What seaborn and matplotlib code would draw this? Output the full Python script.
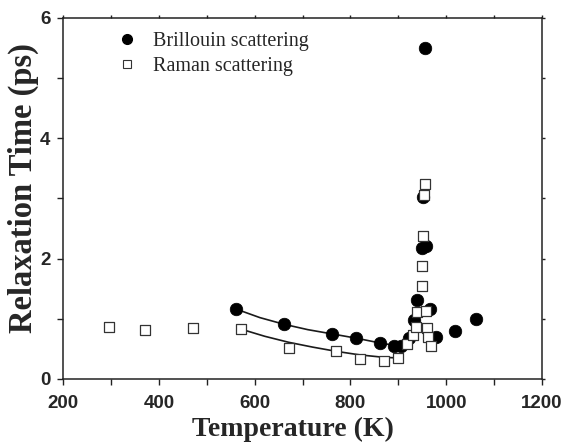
import numpy as np
import pandas as pd
import matplotlib
matplotlib.use("Agg")
import matplotlib.pyplot as plt
from matplotlib.ticker import MultipleLocator
from matplotlib.lines import Line2D
import seaborn as sns

# =============================================
# Data
# =============================================
brillouin_T = [562, 661, 761, 812, 861, 892, 906, 922, 933, 940, 949, 957,
               951, 955, 967, 978, 1019, 1062]
brillouin_tau = [1.16, 0.91, 0.74, 0.68, 0.59, 0.54, 0.54, 0.68, 0.98, 1.31,
                 2.17, 2.21, 3.02, 5.50, 1.17, 0.70, 0.80, 1.00]

raman_T = [296, 371, 471, 571, 671, 770, 820, 870, 900, 918, 930, 936, 940,
           949, 949, 951, 953, 955, 957, 960, 962, 968]
raman_tau = [0.86, 0.81, 0.84, 0.83, 0.51, 0.47, 0.33, 0.30, 0.35, 0.58, 0.73,
             0.87, 1.12, 1.55, 1.87, 2.38, 3.06, 3.24, 1.13, 0.84, 0.70, 0.55]

# guide curves (nodes)
brillouin_fit_T = [562, 611, 661, 711, 761, 811, 861, 906]
brillouin_fit_tau = [1.16, 1.02, 0.91, 0.82, 0.75, 0.68, 0.60, 0.54]
raman_fit_T = [571, 621, 671, 721, 770, 820, 870, 898]
raman_fit_tau = [0.83, 0.71, 0.61, 0.53, 0.46, 0.40, 0.36, 0.35]

labels = ["Brillouin scattering", "Raman scattering"]

# =============================================
# Plot
# =============================================
sns.set_style("ticks")
plt.rcParams["font.family"] = ["Liberation Sans", "DejaVu Sans"]

fig = plt.figure(figsize=(5.74, 4.43), dpi=100)
ax = fig.add_axes([0.1098, 0.1445, 0.8345, 0.8149])

df_b = pd.DataFrame({"T": brillouin_T, "tau": brillouin_tau})
df_r = pd.DataFrame({"T": raman_T, "tau": raman_tau})
fit_b = pd.DataFrame({"T": brillouin_fit_T, "tau": brillouin_fit_tau})
fit_r = pd.DataFrame({"T": raman_fit_T, "tau": raman_fit_tau})

line_col = "#1a1a1a"
sns.lineplot(data=fit_b, x="T", y="tau", ax=ax, color=line_col, lw=1.2,
             sort=False, estimator=None, zorder=2)
sns.lineplot(data=fit_r, x="T", y="tau", ax=ax, color=line_col, lw=1.2,
             sort=False, estimator=None, zorder=2)

sns.scatterplot(data=df_b, x="T", y="tau", ax=ax, marker="o", s=82,
                color="black", edgecolor="black", linewidth=0.5, zorder=3)
sns.scatterplot(data=df_r, x="T", y="tau", ax=ax, marker="s", s=58,
                facecolor="white", edgecolor="#333333", linewidth=0.9, zorder=4)

ax.set_xlim(200, 1200)
ax.set_ylim(0, 6)
ax.xaxis.set_major_locator(MultipleLocator(200))
ax.xaxis.set_minor_locator(MultipleLocator(100))
ax.yaxis.set_major_locator(MultipleLocator(2))
ax.yaxis.set_minor_locator(MultipleLocator(1))

for side in ["left", "right", "top", "bottom"]:
    ax.spines[side].set_visible(True)
    ax.spines[side].set_linewidth(1.1)
    ax.spines[side].set_color("#222222")

ax.tick_params(which="both", direction="out", length=4.5, width=1.0,
               color="#222222", top=True, right=True)
ax.tick_params(axis="x", which="major", labelsize=13.5, pad=7)
ax.tick_params(axis="y", which="major", labelsize=13.5, pad=4.5)
for lab in ax.get_xticklabels() + ax.get_yticklabels():
    lab.set_fontweight("bold")
# shorter ticks on the mirrored sides
for t in ax.xaxis.get_major_ticks() + ax.xaxis.get_minor_ticks():
    t.tick2line.set_markersize(2.5)
for t in ax.yaxis.get_major_ticks() + ax.yaxis.get_minor_ticks():
    t.tick2line.set_markersize(2.5)

ax.set_xlabel("Temperature (K)", family="Liberation Serif", fontweight="bold",
              fontsize=20)
ax.set_ylabel("Relaxation Time (ps)", family="Liberation Serif",
              fontweight="bold", fontsize=23.5)
ax.xaxis.label.set_va("baseline")
ax.yaxis.label.set_va("baseline")
ax.xaxis.set_label_coords(0.480, -0.158, transform=ax.transAxes)
ax.yaxis.set_label_coords(-0.0655, 0.529, transform=ax.transAxes)

handles = [
    Line2D([], [], marker="o", ls="", color="black", markersize=7),
    Line2D([], [], marker="s", ls="", markerfacecolor="white",
           markeredgecolor="#333333", markeredgewidth=0.8, markersize=5.5),
]
ax.legend(handles, labels, loc="upper left", bbox_to_anchor=(0.095, 0.985),
          frameon=False, prop={"family": "Liberation Serif", "size": 14.5},
          handlelength=1.0, handletextpad=0.8, labelspacing=0.32,
          borderaxespad=0)

fig.savefig("out.png", dpi=100)
